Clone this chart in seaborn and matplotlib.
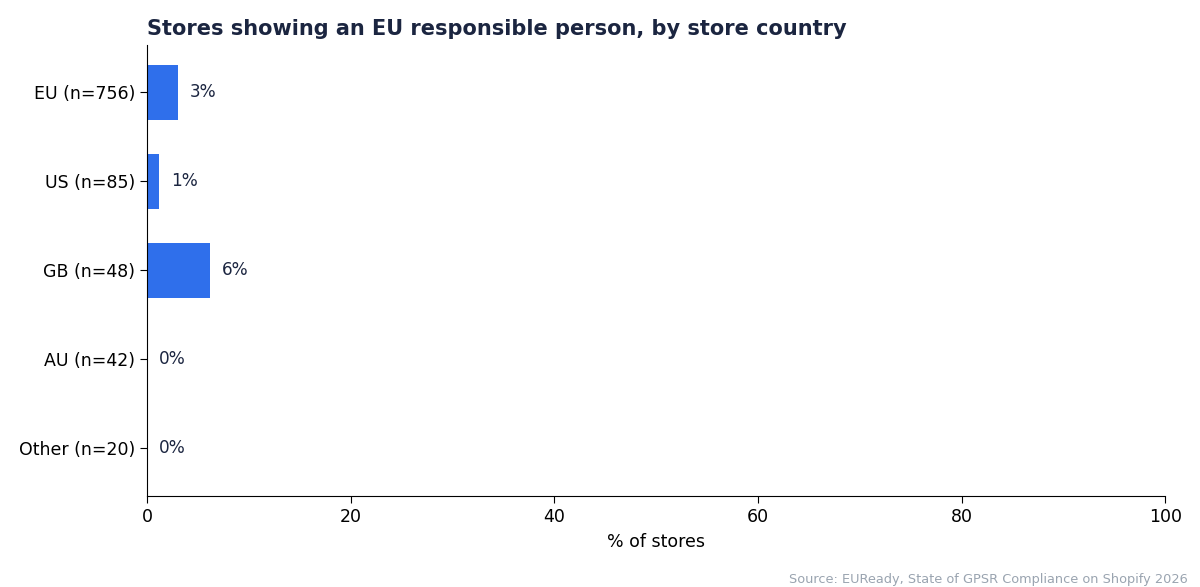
import pandas as pd
import matplotlib.pyplot as plt
import seaborn as sns

# Data
countries = ["EU (n=756)", "US (n=85)", "GB (n=48)", "AU (n=42)", "Other (n=20)"]
pct_stores = [3.0, 1.2, 6.2, 0.0, 0.0]
labels = ["3%", "1%", "6%", "0%", "0%"]

df = pd.DataFrame({"Country": countries, "Pct": pct_stores})

plt.rcParams["font.family"] = ["DejaVu Sans"]

fig = plt.figure(figsize=(12, 5.87), dpi=100)
ax = fig.add_axes([0.1225, 0.155, 0.8485, 0.768])

sns.barplot(data=df, x="Pct", y="Country", orient="h", color="#2F6FEB",
            saturation=1, width=0.62, ax=ax)

# Value labels
for i, (v, lab) in enumerate(zip(pct_stores, labels)):
    ax.text(v + 1.2, i, lab, va="center", ha="left", fontsize=12.2, color="#1B2540")

ax.set_xlim(0, 100)
ax.set_ylim(4.54, -0.53)
ax.set_xlabel("% of stores", fontsize=12.5, labelpad=5)
ax.set_ylabel("")
ax.tick_params(axis="both", labelsize=12.5, colors="black", length=5, pad=3.5)
sns.despine(ax=ax)

ax.set_title("Stores showing an EU responsible person, by store country",
             loc="left", fontsize=15, fontweight="bold", color="#1B2540", pad=7)

fig.text(0.99, 0.002, "Source: EUReady, State of GPSR Compliance on Shopify 2026",
         ha="right", va="bottom", fontsize=9.3, color="#9AA4B0")

fig.savefig("out.png", dpi=100)
